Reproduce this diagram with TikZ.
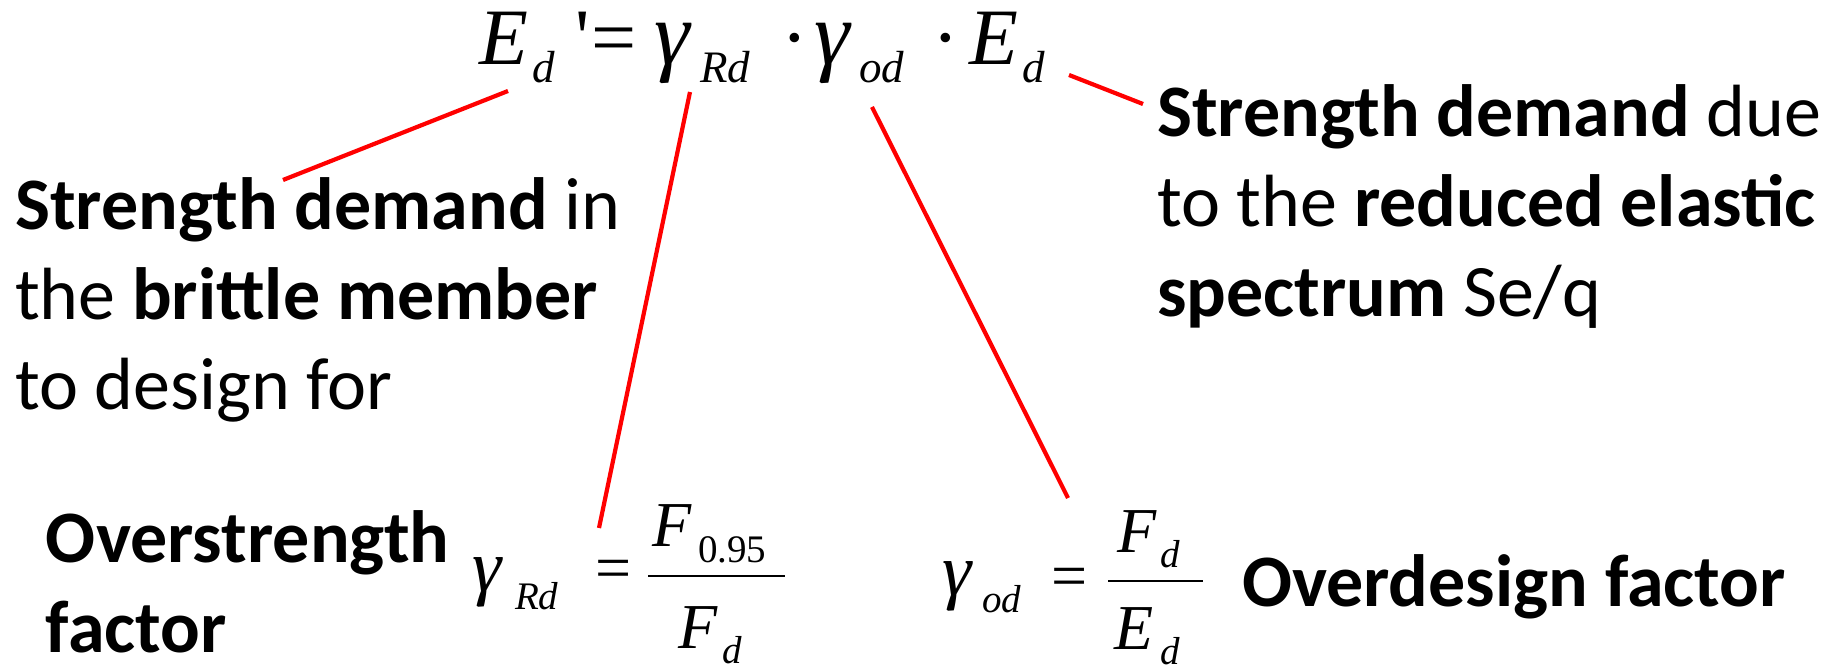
\documentclass[tikz,border=0pt]{standalone}
\usepackage{fontspec}
\setmainfont{Carlito}
\newfontfamily\tms{Liberation Serif}
\newcommand{\txtline}[1]{\hbox{#1}}
\newcommand{\stack}[1]{\vtop{\baselineskip=45pt\lineskiplimit=-100pt\lineskip=0pt #1}}
\newcommand{\sq}{\XeTeXglyph\XeTeXcharglyph"27\relax}
\tikzset{
  pt/.style={anchor=base west, inner sep=0pt, outer sep=0pt},
  txt/.style={pt, font=\fontsize{37}{45}\selectfont},
  mbig/.style={pt, font=\tms\itshape\fontsize{40}{48}\selectfont},
  mgam/.style={pt, font=\tms\itshape\fontsize{45}{52}\selectfont},
  mbigup/.style={pt, font=\tms\fontsize{40}{48}\selectfont},
  msub/.style={pt, font=\tms\itshape\fontsize{22.5}{27}\selectfont},
  fbig/.style={pt, font=\tms\itshape\fontsize{32}{38}\selectfont},
  fgam/.style={pt, font=\tms\itshape\fontsize{37}{44}\selectfont},
  fbigup/.style={pt, font=\tms\fontsize{32}{38}\selectfont},
  fsub/.style={pt, font=\tms\itshape\fontsize{19.5}{23}\selectfont},
  fsubup/.style={pt, font=\tms\fontsize{19.5}{23}\selectfont},
  redline/.style={draw=red, line width=2.1pt},
  barline/.style={draw=black, line width=1.1pt},
}
\begin{document}
\begin{tikzpicture}[x=0.5pt, y=-0.5pt]
\useasboundingbox (0,0) rectangle (1842,667);
% main equation
\node[mbig] (eE) at (479,65) {E};
\node[msub] (ed1) at (532,83) {d};
\node[mbigup] (eprime) at (575,65) {\sq};
\node[mbigup] (eeq) at (591,65) {=};
\node[mgam] (eg1) at (654,65) {γ};
\node[msub] (eRd) at (700,83) {Rd};
\node[mbigup] (edot1) at (781,65) {·};
\node[mgam] (eg2) at (814,65) {γ};
\node[msub] (eod) at (859,83) {od};
\node[mbigup] (edot2) at (932,65) {·};
\node[mbig] (eE2) at (969,65) {E};
\node[msub] (ed2) at (1022,83) {d};
% explanation texts
\node[txt] (tleft) at (15,230) {\stack{\txtline{\textbf{Strength demand} in}\txtline{the \textbf{brittle member}}\txtline{to design for}}};
\node[txt] (tright) at (1157,137) {\stack{\txtline{\textbf{Strength demand} due}\txtline{to the \textbf{reduced elastic}}\txtline{\textbf{spectrum} Se/q}}};
\node[txt] (tover) at (46,563) {\stack{\txtline{\textbf{Overstrength}}\txtline{\textbf{factor}}}};
\node[txt] (tdesign) at (1242,607) {\textbf{Overdesign factor}};
% overstrength formula
\node[fgam] (ag) at (472,592) {γ};
\node[fsub] (aRd) at (515,610) {Rd};
\node[fbigup] (aeq) at (595,590) {=};
\node[fbig] (aF) at (652,547) {F};
\node[fsubup] (a095) at (698,563) {0.95};
\node[fbig] (aFd) at (678,648) {F};
\node[fsub] (ad) at (722,663) {d};
\draw[barline] (648,576) -- (785,576);
% overdesign formula
\node[fgam] (bg) at (942,596) {γ};
\node[fsub] (bod) at (982,613) {od};
\node[fbigup] (beq) at (1051,598) {=};
\node[fbig] (bF) at (1117,553) {F};
\node[fsub] (bFd) at (1160,568) {d};
\node[fbig] (bE) at (1114,650) {E};
\node[fsub] (bEd) at (1160,665) {d};
\draw[barline] (1108,581) -- (1203,581);
% connectors
\coordinate (l1a) at (508,91);
\coordinate (l1b) at (283,180);
\coordinate (l2a) at (690,92);
\coordinate (l2b) at (599,528);
\coordinate (l3a) at (872,107);
\coordinate (l3b) at (1068,498);
\coordinate (l4a) at (1069,75);
\coordinate (l4b) at (1143,104);
\draw[redline] (l1a) -- (l1b);
\draw[redline] (l2a) -- (l2b);
\draw[redline] (l3a) -- (l3b);
\draw[redline] (l4a) -- (l4b);
\end{tikzpicture}
\end{document}
